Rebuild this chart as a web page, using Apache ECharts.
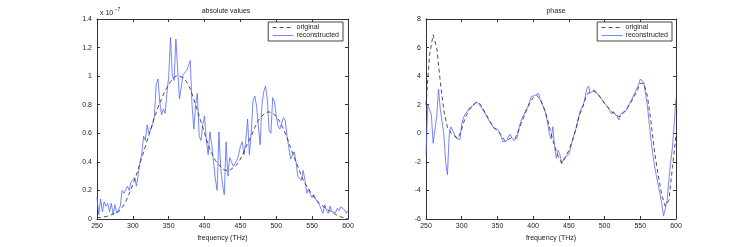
<!DOCTYPE html>
<html>
<head>
<meta charset="utf-8">
<script src="https://cdn.jsdelivr.net/npm/echarts@6/dist/echarts.min.js"></script>
<style>
  html, body { margin: 0; padding: 0; background: #fff; }
  #chart { width: 747px; height: 247px; }
</style>
</head>
<body>
<div id="chart"></div>
<script>
// x axis ticks (THz)
var freqTicks = [250, 300, 350, 400, 450, 500, 550, 600];

// absolute values, in units of 1e-7; original sampled every 5 THz from 250
var absOrig = [
    0.01, 0.01, 0.015, 0.02, 0.03, 0.04, 0.05, 0.08, 0.12, 0.18,
    0.24, 0.31, 0.39, 0.47, 0.55, 0.63, 0.71, 0.78, 0.84, 0.90,
    0.94, 0.98, 1.00, 1.00, 0.99, 0.96, 0.91, 0.84, 0.76, 0.68,
    0.60, 0.52, 0.46, 0.41, 0.38, 0.35, 0.34, 0.34, 0.36, 0.38,
    0.42, 0.47, 0.53, 0.58, 0.64, 0.69, 0.72, 0.745, 0.75, 0.74,
    0.72, 0.68, 0.63, 0.57, 0.50, 0.43, 0.37, 0.30, 0.25, 0.21,
    0.17, 0.14, 0.11, 0.09, 0.07, 0.055, 0.04, 0.025, 0.015, 0.008,
    0.0
];
// reconstructed sampled every 2.5 THz from 250
var absRec = [
    0.15, 0.03, 0.14, 0.05, 0.12, 0.09, 0.11, 0.05, 0.11, 0.03,
    0.10, 0.04, 0.03, 0.09, 0.20, 0.18, 0.18, 0.23, 0.20, 0.26,
    0.25, 0.29, 0.23, 0.31, 0.40, 0.46, 0.58, 0.55, 0.66, 0.60,
    0.60, 0.66, 0.72, 0.94, 0.98, 0.82, 0.73, 0.77, 0.74, 0.88,
    1.00, 1.27, 1.00, 0.97, 1.26, 1.05, 0.84, 0.84, 1.01, 1.02,
    1.04, 1.07, 1.11, 0.80, 0.63, 0.80, 0.88, 0.58, 0.55, 0.66,
    0.72, 0.55, 0.45, 0.61, 0.52, 0.40, 0.28, 0.20, 0.61, 0.36,
    0.24, 0.17, 0.54, 0.30, 0.43, 0.40, 0.37, 0.39, 0.41, 0.45,
    0.51, 0.54, 0.45, 0.55, 0.70, 0.45, 0.60, 0.83, 0.86, 0.79,
    0.65, 0.52, 0.80, 0.89, 0.93, 0.84, 0.62, 0.60, 0.85, 0.82,
    0.72, 0.65, 0.63, 0.62, 0.71, 0.69, 0.58, 0.50, 0.42, 0.42,
    0.47, 0.40, 0.30, 0.31, 0.27, 0.34, 0.27, 0.18, 0.21, 0.17,
    0.15, 0.17, 0.14, 0.12, 0.10, 0.07, 0.04, 0.10, 0.06, 0.04,
    0.09, 0.05, 0.06, 0.045, 0.075, 0.06, 0.085, 0.08, 0.065, 0.04,
    0.06
];

// phase, original every 5 THz
var phaseOrig = [
    2.0, 5.5, 6.9, 6.0, 3.6, 1.6, 0.4, 0.0, -0.2, -0.35,
    0.3, 1.1, 1.6, 1.9, 2.15, 2.1, 1.7, 1.25, 0.8, 0.4,
    0.2, -0.1, -0.5, -0.45, -0.3, -0.35, 0.25, 0.9, 1.5, 2.1,
    2.5, 2.65, 2.4, 1.8, 1.0, 0.0, -0.9, -1.6, -2.1, -1.7,
    -1.2, -0.5, 0.3, 1.3, 1.9, 2.7, 2.9, 2.95, 2.8, 2.45,
    2.1, 1.8, 1.5, 1.35, 1.15, 1.35, 1.6, 2.0, 2.45, 2.9,
    3.5, 3.5, 2.6, 0.8, -1.3, -2.9, -4.3, -5.1, -4.7, -2.4,
    -0.1
];
// phase, reconstructed every 2.5 THz
var phaseRec = [
    -1.5, 2.0, 2.0, 1.3, -0.7, -0.6, 1.2, 3.1, 1.7, 0.8,
    -0.1, -2.0, -2.9, -0.1, 0.45, 0.35, -0.1, -0.35, -0.45, -0.45,
    0.6, 1.1, 1.35, 1.5, 1.75, 1.75, 1.9, 2.05, 2.2, 2.2,
    2.0, 1.8, 1.6, 1.4, 1.17, 0.95, 0.75, 0.55, 0.35, 0.23,
    0.28, 0.1, -0.2, -0.6, -0.7, -0.55, -0.3, -0.07, -0.3, -0.5,
    -0.5, -0.35, 0.35, 0.8, 1.1, 1.35, 1.63, 1.85, 2.2, 2.57,
    2.6, 2.65, 2.7, 2.8, 2.33, 2.05, 1.75, 1.4, 0.8, 0.0,
    -0.4, 0.45, -0.9, -1.75, -1.2, -1.5, -2.1, -2.1, -1.63, -1.52,
    -1.5, -1.0, -0.5, -0.1, 0.35, 0.9, 1.4, 1.75, 1.95, 2.45,
    3.1, 3.3, 2.8, 2.92, 3.05, 2.9, 2.75, 2.6, 2.45, 2.3,
    2.1, 1.95, 1.8, 1.55, 1.35, 1.52, 1.33, 1.17, 0.93, 1.3,
    1.45, 1.35, 1.6, 1.87, 2.1, 2.3, 2.6, 2.5, 3.1, 3.4,
    3.8, 3.85, 3.55, 2.7, 1.9, 0.7, -0.5, -1.45, -2.3, -2.95,
    -3.6, -4.2, -4.9, -5.8, -5.9, -4.7, -3.3, -2.0, -1.0, 0.6,
    2.45
];

var FONT = 'Liberation Sans';
var AXIS_COLOR = '#333';

function pairs(start, step, vals) {
    return vals.map(function (v, i) { return [start + step * i, v]; });
}

function xAxisFor(grid, pos, labels) {
    return {
        type: 'value', gridIndex: grid, position: pos,
        min: freqTicks[0], max: freqTicks[freqTicks.length - 1], interval: 50,
        axisLine: { show: true, onZero: false, lineStyle: { color: AXIS_COLOR, width: 1 } },
        axisTick: { show: true, inside: true, length: 3, lineStyle: { color: AXIS_COLOR } },
        axisLabel: { show: labels, margin: 4, fontSize: 7, fontFamily: FONT, color: '#222' },
        splitLine: { show: false },
        name: labels && pos === 'bottom' ? 'frequency (THz)' : '',
        nameLocation: 'middle', nameGap: 12,
        nameTextStyle: { fontSize: 7, fontFamily: FONT, color: '#222' }
    };
}

function yAxisFor(grid, pos, labels, min, max, interval) {
    return {
        type: 'value', gridIndex: grid, position: pos,
        min: min, max: max, interval: interval,
        axisLine: { show: true, onZero: false, lineStyle: { color: AXIS_COLOR, width: 1 } },
        axisTick: { show: true, inside: true, length: 3, lineStyle: { color: AXIS_COLOR } },
        axisLabel: { show: labels, margin: 5, fontSize: 7, fontFamily: FONT, color: '#222' },
        splitLine: { show: false }
    };
}

var origStyle = { color: '#222', width: 0.8, type: [4, 3] };
var recStyle = { color: '#5566ff', width: 0.8 };

var legendBase = {
    orient: 'vertical', top: 22, width: 75,
    itemWidth: 21, itemHeight: 8, itemGap: 1,
    padding: [2, 4, 2, 4],
    borderColor: '#444', borderWidth: 1, backgroundColor: '#fff',
    itemStyle: { opacity: 0 },
    lineStyle: { width: 0.8 },
    textStyle: { fontSize: 7, fontFamily: FONT, color: '#222', padding: [0, 0, 0, -2] },
    data: ['original', 'reconstructed']
};

var smallText = { fontSize: 7, fontWeight: 'normal', fontFamily: FONT, color: '#222' };

var chart = echarts.init(document.getElementById('chart'));
chart.setOption({
    animation: false,
    title: [
        { text: 'absolute values', left: 221, top: 3, textAlign: 'center', textStyle: smallText },
        { text: 'phase', left: 551, top: 3, textAlign: 'center', textStyle: smallText },
        { text: '{a|x 10}{b| −7}', left: 95, top: 2,
          textStyle: { fontWeight: 'normal', rich: {
              a: { fontSize: 7, fontWeight: 'normal', fontFamily: FONT, color: '#222', verticalAlign: 'bottom' },
              b: { fontSize: 5, fontWeight: 'normal', fontFamily: FONT, color: '#222', verticalAlign: 'top', padding: [0, 0, 5, 0] }
          } } }
    ],
    legend: [
        Object.assign({}, legendBase, { right: 404 }),
        Object.assign({}, legendBase, { right: 75 })
    ],
    grid: [
        { left: 97, top: 19, width: 251, height: 200 },
        { left: 426, top: 19, width: 250, height: 200 }
    ],
    xAxis: [
        xAxisFor(0, 'bottom', true), xAxisFor(0, 'top', false),
        xAxisFor(1, 'bottom', true), xAxisFor(1, 'top', false)
    ],
    yAxis: [
        yAxisFor(0, 'left', true, 0, 1.4, 0.2), yAxisFor(0, 'right', false, 0, 1.4, 0.2),
        yAxisFor(1, 'left', true, -6, 8, 2), yAxisFor(1, 'right', false, -6, 8, 2)
    ],
    series: [
        { name: 'original', type: 'line', xAxisIndex: 0, yAxisIndex: 0, showSymbol: false, symbol: 'none',
          lineStyle: origStyle, itemStyle: { color: origStyle.color }, data: pairs(250, 5, absOrig), z: 3 },
        { name: 'reconstructed', type: 'line', xAxisIndex: 0, yAxisIndex: 0, showSymbol: false, symbol: 'none',
          lineStyle: recStyle, itemStyle: { color: recStyle.color }, data: pairs(250, 2.5, absRec), z: 2 },
        { name: 'original', type: 'line', xAxisIndex: 2, yAxisIndex: 2, showSymbol: false, symbol: 'none',
          lineStyle: origStyle, itemStyle: { color: origStyle.color }, data: pairs(250, 5, phaseOrig), z: 3 },
        { name: 'reconstructed', type: 'line', xAxisIndex: 2, yAxisIndex: 2, showSymbol: false, symbol: 'none',
          lineStyle: recStyle, itemStyle: { color: recStyle.color }, data: pairs(250, 2.5, phaseRec), z: 2 }
    ]
});
</script>
</body>
</html>
